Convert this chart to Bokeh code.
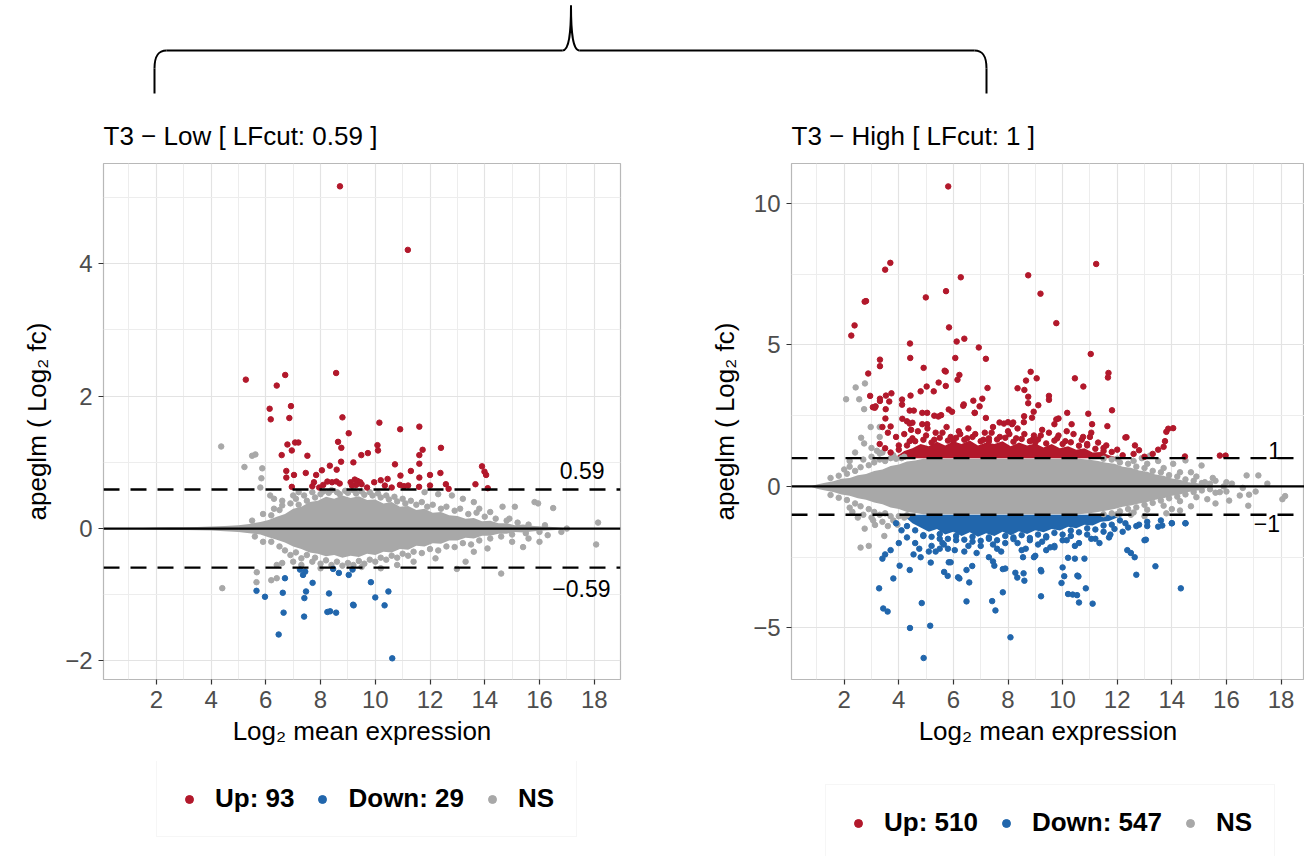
from bokeh.plotting import figure
from bokeh.layouts import column, row
from bokeh.models import FixedTicker, Span, Label, Legend, LegendItem
from bokeh.embed import file_html
from bokeh.resources import INLINE

FONT = "Liberation Sans"
RED = "#B2182B"
BLUE = "#2166AC"
GRAY = "#A8A8A8"

# ---------------- data: panel 1 (T3 - Low) ----------------
low_title = "T3 − Low [ LFcut: 0.59 ]"
low_cut = 0.59
low_legend = ["Up: 93", "Down: 29", "NS"]
low_up_x = [8.71, 11.19, 5.27, 6.71, 6.40, 8.57, 6.14, 6.92, 6.18, 6.86, 8.80, 10.15, 10.91, 11.61, 9.03,
            8.64, 8.76, 6.79, 7.07, 7.19, 6.95, 6.58, 7.52, 10.08, 10.10, 9.49, 9.73, 10.72, 11.61, 11.73,
            12.40, 11.61, 9.20, 8.75, 8.34, 8.59, 8.05, 7.84, 7.46, 7.03, 6.75, 6.75, 11.30, 10.92, 11.61,
            12.0, 12.38, 13.90, 13.99, 14.05, 14.11, 13.66, 12.68, 12.58, 8.25, 8.42, 8.58, 8.70, 7.76,
            7.70, 9.10, 9.25, 9.35, 9.45, 9.30, 9.15, 9.50, 9.96, 10.20, 10.35, 10.45, 10.90, 11.05, 11.20,
            11.60, 12.0, 7.95, 8.10, 9.70, 10.60, 6.95]
low_up_y = [5.17, 4.21, 2.25, 2.32, 2.16, 2.35, 1.81, 1.85, 1.65, 1.67, 1.68, 1.60, 1.50, 1.54, 1.44,
            1.31, 1.22, 1.27, 1.30, 1.30, 1.18, 1.11, 1.10, 1.26, 1.18, 1.11, 1.14, 0.97, 1.11, 1.19,
            1.22, 0.98, 1.00, 1.01, 0.95, 0.89, 0.88, 0.81, 0.84, 0.81, 0.87, 0.77, 0.87, 0.80, 0.77,
            0.81, 0.84, 0.94, 0.86, 0.81, 0.61, 0.67, 0.60, 0.67, 0.71, 0.70, 0.71, 0.68, 0.70,
            0.64, 0.70, 0.74, 0.72, 0.70, 0.66, 0.65, 0.67, 0.70, 0.73, 0.65, 0.75, 0.66, 0.64, 0.65,
            0.63, 0.65, 0.62, 0.66, 0.62, 0.62, 0.63]
low_down_x = [7.25, 7.36, 7.44, 6.70, 7.71, 8.46, 8.67, 9.03, 9.17, 9.84, 10.48, 10.0, 10.34, 9.19, 9.21,
              8.31, 8.25, 8.35, 8.57, 7.47, 7.41, 6.62, 5.97, 5.66, 6.65, 7.40, 6.47, 10.62]
low_down_y = [-0.62, -0.70, -0.65, -0.75, -0.82, -0.61, -0.67, -0.70, -0.62, -0.81, -0.95, -1.04, -1.16,
              -1.15, -1.16, -0.98, -1.26, -1.25, -1.27, -0.95, -1.05, -0.97, -1.03, -0.94, -1.27, -1.33,
              -1.60, -1.96]
low_ns_x = [4.37, 5.50, 5.62, 5.22, 5.87, 5.84, 5.80, 6.16, 6.30, 15.82, 15.95, 16.50, 18.14, 18.07, 15.40,
            15.10, 14.65, 13.30, 12.98, 14.60, 5.67, 5.66, 4.41, 6.20, 6.40, 6.40, 6.60, 16.80, 16.30, 17.0,
            15.60, 16.0, 14.90, 14.20, 13.60, 13.80, 13.20, 12.80, 12.30, 11.80, 7.20, 7.0, 6.60, 7.0, 7.30,
            10.80, 11.40, 12.20, 13.60, 14.10, 15.0, 8.0, 9.50, 10.20]
low_ns_y = [1.24, 1.10, 1.12, 0.93, 0.91, 0.76, 0.62, 0.50, 0.45, 0.40, 0.38, 0.31, 0.09, -0.24, -0.28,
            0.33, 0.33, -0.50, -0.61, -0.68, -0.66, -0.81, -0.90, -0.78, -0.75, -0.55, -0.52, -0.05, -0.10, 0.0,
            -0.15, -0.20, 0.15, 0.25, 0.40, 0.30, 0.45, 0.50, 0.52, 0.55, 0.55, 0.50, 0.42, -0.50, -0.55,
            -0.55, -0.50, -0.45, -0.35, -0.30, -0.20, -0.60, -0.58, -0.60]
# NS points at the edge of the dense cloud (x, y)
low_ns_edge = [(6.2, 0.2), (6.5, 0.28), (6.6, 0.35), (6.9, 0.38), (7.1, 0.45), (7.2, 0.36), (7.4, 0.5),
               (7.5, 0.42), (7.7, 0.55), (7.8, 0.47), (8.0, 0.52), (8.1, 0.56), (8.3, 0.54), (8.4, 0.58),
               (8.6, 0.55), (8.7, 0.52), (8.9, 0.57), (9.0, 0.54), (9.2, 0.58), (9.3, 0.53), (9.5, 0.56),
               (9.6, 0.51), (9.8, 0.55), (9.9, 0.5), (10.1, 0.53), (10.2, 0.47), (10.4, 0.5), (10.5, 0.44),
               (10.7, 0.48), (10.8, 0.41), (11.0, 0.45), (11.1, 0.38), (11.3, 0.42), (11.5, 0.36),
               (11.7, 0.4), (11.9, 0.33), (12.1, 0.36), (12.4, 0.3), (12.6, 0.33), (12.9, 0.27), (13.1, 0.3),
               (13.4, 0.22), (13.7, 0.24), (14.0, 0.18), (14.4, 0.15), (14.8, 0.12), (15.2, 0.09),
               (15.6, 0.06), (16.2, 0.05), (5.5, 0.12), (5.9, 0.22), (6.3, 0.3),
               (6.2, -0.2), (6.5, -0.27), (6.7, -0.33), (6.9, -0.4), (7.1, -0.36), (7.3, -0.45), (7.5, -0.4),
               (7.7, -0.5), (7.8, -0.44), (8.0, -0.53), (8.2, -0.48), (8.4, -0.55), (8.6, -0.5), (8.8, -0.56),
               (9.0, -0.52), (9.2, -0.55), (9.4, -0.49), (9.6, -0.53), (9.8, -0.47), (10.0, -0.5),
               (10.2, -0.44), (10.4, -0.47), (10.6, -0.41), (10.8, -0.44), (11.0, -0.38), (11.2, -0.41),
               (11.4, -0.35), (11.7, -0.37), (12.0, -0.31), (12.3, -0.33), (12.6, -0.27), (12.9, -0.28),
               (13.2, -0.22), (13.5, -0.24), (13.8, -0.18), (14.2, -0.15), (14.6, -0.12), (15.0, -0.09),
               (15.5, -0.07), (16.0, -0.05), (5.6, -0.12), (5.9, -0.2)]
# dense NS cloud (envelope)
low_core_x = [0.9, 1.5, 2, 2.5, 3, 3.5, 4, 4.5, 5, 5.4, 5.8, 6.1, 6.4, 6.7, 7.0, 7.3, 7.6, 7.9, 8.2, 8.5,
              8.8, 9.1, 9.4, 9.7, 10.0, 10.3, 10.6, 10.9, 11.2, 11.5, 11.8, 12.1, 12.4, 12.7, 13.0, 13.3,
              13.6, 13.9, 14.2, 14.5, 14.8, 15.1, 15.4, 15.8, 16.2, 16.6, 17.0]
low_core_hi = [0, 0.01, 0.015, 0.02, 0.02, 0.025, 0.03, 0.04, 0.05, 0.07, 0.1, 0.13, 0.18, 0.22, 0.3, 0.33,
               0.4, 0.42, 0.48, 0.45, 0.5, 0.46, 0.49, 0.43, 0.44, 0.38, 0.40, 0.33, 0.34, 0.28, 0.30, 0.24,
               0.25, 0.2, 0.19, 0.15, 0.16, 0.11, 0.12, 0.08, 0.08, 0.05, 0.06, 0.04, 0.03, 0.02, 0]
low_core_lo = [0, -0.01, -0.015, -0.02, -0.02, -0.025, -0.03, -0.04, -0.05, -0.07, -0.09, -0.13, -0.17,
               -0.21, -0.27, -0.31, -0.36, -0.38, -0.42, -0.40, -0.44, -0.41, -0.43, -0.38, -0.40, -0.35,
               -0.36, -0.31, -0.32, -0.26, -0.27, -0.22, -0.23, -0.18, -0.18, -0.14, -0.15, -0.11, -0.11,
               -0.08, -0.08, -0.05, -0.06, -0.04, -0.03, -0.02, 0]

# ---------------- data: panel 2 (T3 - High) ----------------
high_title = "T3 − High [ LFcut: 1 ]"
high_cut = 1.0
high_legend = ["Up: 510", "Down: 547", "NS"]
high_up_x = [5.81, 3.50, 3.69, 11.23, 8.74, 6.27, 9.19, 5.73, 4.99, 2.75, 2.80, 9.77, 2.38, 2.26, 5.84, 6.40,
             6.12, 4.41, 6.93, 4.42, 6.07, 7.19, 11.03, 3.31, 3.31, 2.88, 4.91, 5.68, 5.72, 6.22, 6.15, 8.83,
             8.66, 9.05, 11.68, 11.66, 10.45, 10.76, 5.46, 5.02, 5.28, 4.80, 5.72, 7.25, 8.35, 8.60, 8.74, 8.74,
             9.11, 9.50, 9.50, 2.95, 3.31, 3.31, 3.53, 3.73, 3.65, 4.12, 4.12, 4.43, 3.05, 3.12, 3.15, 3.52,
             4.40, 4.55, 4.86, 5.04, 5.30, 5.45, 5.55, 5.83, 5.95, 6.38, 6.36, 6.73, 6.78, 7.06, 6.96, 6.78,
             7.19, 7.69, 7.85, 8.0, 8.19, 8.15, 8.59, 8.58, 8.88, 8.94, 9.77, 9.85, 9.70, 10.17, 10.33, 10.94,
             11.08, 11.64, 11.81, 14.05, 3.40, 3.70, 4.13, 4.86, 5.04, 4.30, 4.40, 4.50, 3.51,
             3.6, 3.9, 4.2, 4.5, 4.7, 5.0, 5.3, 5.6, 5.9, 6.2, 6.5, 6.8, 7.1, 7.4, 7.7, 8.0, 8.3, 8.6, 8.9,
             9.2, 9.5, 9.8, 10.1, 10.4, 10.7, 11.0, 11.3, 11.6, 12.0, 12.34, 12.65, 12.8, 13.5, 13.7, 14.48,
             15.76, 15.97, 13.87, 13.80, 13.75, 12.30, 3.3, 3.5, 3.7, 4.0, 4.4, 6.0, 7.3, 9.0, 10.9, 11.5,
             12.2, 12.6, 13.0, 13.3]
high_up_y = [10.60, 7.66, 7.90, 7.86, 7.46, 7.39, 6.81, 6.90, 6.68, 6.53, 6.55, 5.77, 5.69, 5.33, 5.62, 5.22,
             5.12, 5.05, 4.91, 4.54, 4.54, 4.51, 4.68, 4.48, 4.25, 3.99, 4.19, 4.09, 4.06, 3.94, 3.77, 4.05,
             3.74, 3.82, 4.01, 3.85, 3.82, 3.53, 3.67, 3.53, 3.36, 3.36, 3.55, 3.48, 3.47, 3.41, 3.17, 2.94,
             2.87, 3.20, 3.06, 3.20, 3.10, 3.02, 3.21, 3.29, 3.00, 3.07, 2.89, 3.21, 2.80, 2.78, 2.83, 2.73,
             2.68, 2.68, 2.60, 2.60, 2.50, 2.47, 2.52, 2.72, 2.64, 2.90, 2.85, 3.03, 2.60, 3.10, 2.83, 2.60,
             2.42, 2.26, 2.22, 2.27, 2.26, 2.20, 2.48, 2.27, 2.43, 2.64, 2.37, 2.40, 2.20, 2.60, 2.20, 2.57,
             2.20, 2.13, 2.69, 2.06, 2.10, 2.12, 2.39, 2.20, 2.20, 2.30, 2.22, 2.25, 2.40,
             1.9, 1.75, 1.85, 1.7, 1.95, 1.8, 1.65, 1.9, 1.75, 1.95, 1.7, 1.85, 1.65, 1.9, 1.75, 1.95, 1.7, 1.85,
             1.65, 1.8, 1.9, 1.7, 1.6, 1.85, 1.65, 1.75, 1.55, 1.45, 1.3, 1.74, 1.45, 1.28, 1.3, 1.4, 1.06,
             1.09, 1.09, 2.04, 1.93, 1.6, 1.73, 1.5, 1.35, 1.2, 1.45, 1.6, 1.6, 1.6, 1.55, 1.45, 1.25,
             1.1, 1.15, 1.05, 1.15]
high_up_edge = [(4.0, 1.3), (4.3, 1.45), (4.6, 1.6), (4.9, 1.65), (5.2, 1.55), (5.5, 1.72), (5.8, 1.62),
                (6.1, 1.72), (6.4, 1.65), (6.7, 1.75), (7.0, 1.6), (7.3, 1.7), (7.6, 1.66), (7.9, 1.72),
                (8.2, 1.58), (8.5, 1.68), (8.8, 1.6), (9.1, 1.66), (9.4, 1.52), (9.7, 1.62), (10.0, 1.5),
                (10.3, 1.56), (10.6, 1.44), (10.9, 1.5), (11.2, 1.33), (11.5, 1.36), (11.8, 1.22),
                (4.45, 2.0), (5.05, 2.05), (5.75, 2.1), (6.55, 2.05), (7.45, 2.1), (8.35, 2.05), (9.25, 2.0),
                (10.15, 1.95), (11.05, 1.9), (5.35, 1.9), (6.25, 1.85), (7.15, 1.9), (8.05, 1.85),
                (8.95, 1.8), (9.85, 1.8), (10.75, 1.75)]
high_down_x = [3.28, 3.43, 3.59, 3.80, 4.03, 4.41, 5.15, 4.91, 4.84, 4.40, 5.17, 5.66, 5.79, 5.83, 5.90, 6.17,
               6.22, 6.48, 6.58, 6.48, 6.69, 7.42, 7.54, 7.81, 8.09, 7.81, 7.90, 8.27, 8.34, 8.57, 8.60, 9.21,
               9.20, 9.22, 9.96, 10.0, 10.06, 10.20, 10.37, 10.53, 10.54, 10.58, 10.60, 10.85, 11.10, 10.80,
               10.45, 10.20, 12.70, 12.50, 12.37, 12.64, 13.40, 14.33, 13.0, 13.05, 14.0, 14.5, 3.5, 3.4, 4.0,
               3.7, 4.54, 4.8, 5.1, 5.5, 5.6, 7.3, 7.45, 7.5, 8.55, 8.95, 9.0, 9.4, 9.7, 11.7, 11.75, 12.2,
               12.4, 12.8, 13.1, 13.5, 13.65,
               4.3, 4.6, 4.9, 5.2, 5.5, 5.8, 6.1, 6.4, 6.7, 7.0, 7.3, 7.6, 7.9, 8.2, 8.5, 8.8, 9.1, 9.4, 9.7,
               10.0, 10.3, 10.6, 10.9, 11.2, 11.5, 11.9, 12.3, 12.7, 13.1, 13.6, 14.0, 14.5, 3.9, 4.1]
high_down_y = [-3.60, -4.31, -4.42, -3.25, -2.80, -5.00, -4.92, -6.06, -4.12, -2.95, -2.69, -3.02, -3.16, -2.68,
               -2.68, -3.21, -3.25, -4.06, -3.39, -2.95, -2.81, -4.05, -4.38, -3.74, -5.33, -2.92, -2.90, -3.05,
               -3.22, -3.07, -3.33, -3.88, -2.95, -3.0, -3.41, -2.86, -3.17, -3.80, -3.82, -3.84, -3.15, -3.18,
               -4.10, -3.60, -4.14, -2.55, -2.55, -2.52, -3.12, -2.35, -2.25, -2.50, -2.82, -3.60, -1.90, -1.88,
               -1.30, -1.30, -2.40, -2.55, -2.0, -2.25, -2.40, -2.50, -2.30, -2.20, -2.0, -2.50, -2.65, -2.80,
               -2.50, -2.50, -2.45, -2.25, -2.10, -1.80, -1.70, -1.60, -1.45, -1.35, -1.40, -1.42, -1.38,
               -1.8, -2.0, -1.75, -2.1, -1.85, -2.2, -1.9, -2.3, -1.95, -2.1, -1.85, -2.2, -2.0, -1.8, -2.25,
               -1.9, -2.05, -1.8, -2.15, -1.9, -1.75, -2.0, -1.7, -1.85, -1.6, -1.5, -1.3, -1.4, -1.25, -1.2,
               -1.3, -1.3, -1.3, -1.55]
high_down_edge = [(4.3, -1.4), (4.6, -1.55), (4.9, -1.72), (5.2, -1.78), (5.5, -1.68), (5.8, -1.85),
                  (6.1, -1.75), (6.4, -1.88), (6.7, -1.78), (7.0, -1.92), (7.3, -1.8), (7.6, -1.9),
                  (7.9, -1.75), (8.2, -1.86), (8.5, -1.72), (8.8, -1.82), (9.1, -1.7), (9.4, -1.76),
                  (9.7, -1.64), (10.0, -1.7), (10.3, -1.56), (10.6, -1.62), (10.9, -1.48), (11.2, -1.52),
                  (11.5, -1.38), (11.8, -1.35), (12.1, -1.2), (4.75, -2.2), (5.35, -2.3), (6.05, -2.25),
                  (6.85, -2.35), (7.75, -2.3), (8.65, -2.2), (9.55, -2.15), (10.45, -2.1), (11.35, -2.0),
                  (5.65, -2.05), (6.55, -2.1), (7.45, -2.05), (8.35, -2.0), (9.25, -1.95), (10.15, -1.9),
                  (11.05, -1.85)]
high_ns_x = [2.07, 2.42, 2.76, 2.55, 2.73, 2.97, 3.30, 2.62, 2.73, 3.30, 3.30, 3.20, 3.0, 2.4, 2.2, 2.0, 3.8,
             4.2, 2.75, 2.60, 2.90, 3.13, 3.47, 3.06, 3.80, 3.95, 2.3, 2.5, 3.6, 4.2, 15.09, 14.70, 14.05,
             14.50, 15.21, 15.76, 16.49, 16.83, 17.07, 16.74, 17.17, 18.15, 18.05, 16.10, 16.80, 14.70, 14.30,
             14.0, 13.80, 13.20, 13.50, 15.50, 15.90, 16.20, 15.30, 15.60, 17.50, 16.60, 12.90, 12.50, 13.0]
high_ns_y = [3.08, 3.50, 3.64, 3.08, 2.73, 2.10, 2.10, 1.72, 1.52, 1.75, 1.17, 1.26, 1.36, 1.20, 0.90, 0.60,
             1.10, 1.05, -1.49, -2.16, -2.10, -1.36, -1.75, -1.20, -1.20, -1.35, -0.90, -1.10, -1.40, -1.10,
             0.74, 0.50, 0.80, 0.92, 0.15, -0.20, -0.32, -0.29, -0.18, 0.39, 0.39, -0.34, -0.45, -0.50, -0.68,
             -0.70, -0.85, -0.80, -0.95, 1.09, 0.90, 0.30, 0.0, 0.10, -0.45, -0.60, 0.10, -0.05, 1.0, -1.0,
             -1.05]
high_ns_edge = [(1.5, 0.3), (1.8, 0.38), (2.1, 0.45), (2.4, 0.55), (2.6, 0.68), (2.9, 0.75), (3.1, 0.85),
                (3.3, 0.95), (3.5, 0.9), (3.7, 1.0), (2.2, 0.7), (2.7, 0.95), (3.0, 1.05), (3.4, 1.2),
                (3.9, 0.98), (4.1, 1.0), (1.5, -0.3), (1.8, -0.4), (2.1, -0.48), (2.4, -0.6), (2.6, -0.7),
                (2.9, -0.8), (3.1, -0.9), (3.3, -1.0), (3.5, -0.95), (3.7, -1.05), (2.2, -0.75), (2.7, -1.0),
                (3.0, -1.1), (3.4, -1.25), (4.0, -1.05), (4.3, -1.02), (11.5, 0.98), (11.8, 0.95),
                (12.1, 0.85), (12.4, 0.8), (12.7, 0.7), (13.0, 0.65), (13.3, 0.55), (13.6, 0.5), (13.9, 0.4),
                (14.2, 0.35), (14.5, 0.25), (14.8, 0.2), (15.1, 0.12), (15.4, 0.1), (12.0, 0.98), (12.6, 0.9),
                (13.1, 0.8), (13.7, 0.65), (14.3, 0.5), (14.9, 0.35), (15.6, 0.2), (16.0, 0.15),
                (11.5, -0.98), (11.8, -0.95), (12.1, -0.88), (12.4, -0.8), (12.7, -0.74), (13.0, -0.65),
                (13.3, -0.58), (13.6, -0.5), (13.9, -0.42), (14.2, -0.36), (14.5, -0.28), (14.8, -0.2),
                (15.1, -0.14), (15.4, -0.1), (12.0, -0.98), (12.6, -0.92), (13.1, -0.82), (13.7, -0.68),
                (14.3, -0.52), (14.9, -0.38), (15.6, -0.22), (16.0, -0.18)]
high_core_x = [0.75, 1.0, 1.3, 1.6, 1.9, 2.2, 2.5, 2.8, 3.1, 3.4, 3.7, 4.0, 4.3, 4.6, 4.9, 5.2, 6, 7, 8, 9,
               10, 10.6, 11.0, 11.3, 11.6, 11.9, 12.2, 12.5, 12.8, 13.1, 13.4, 13.7, 14.0, 14.3, 14.6, 14.9,
               15.2, 15.5]
high_core_hi = [0, 0.07, 0.13, 0.18, 0.27, 0.3, 0.4, 0.44, 0.55, 0.6, 0.72, 0.78, 0.88, 0.92, 0.98, 0.98,
                0.98, 0.98, 0.98, 0.98, 0.98, 0.98, 0.94, 0.9, 0.84, 0.8, 0.7, 0.66, 0.56, 0.52, 0.42, 0.38,
                0.28, 0.24, 0.15, 0.12, 0.05, 0]
high_core_lo = [0, -0.08, -0.14, -0.2, -0.28, -0.33, -0.42, -0.47, -0.57, -0.63, -0.74, -0.8, -0.9, -0.94,
                -0.98, -0.98, -0.98, -0.98, -0.98, -0.98, -0.98, -0.98, -0.95, -0.9, -0.85, -0.8, -0.72,
                -0.67, -0.6, -0.55, -0.47, -0.42, -0.33, -0.28, -0.2, -0.15, -0.07, 0]
# dense significant bands just beyond the cut-offs
high_upband_x = [3.9, 4.2, 4.5, 4.8, 5.1, 5.4, 5.7, 6.0, 6.3, 6.6, 6.9, 7.2, 7.5, 7.8, 8.1, 8.4, 8.7, 9.0,
                 9.3, 9.6, 9.9, 10.2, 10.5, 10.8, 11.1, 11.4, 11.7, 12.0]
high_upband_hi = [1.05, 1.25, 1.35, 1.5, 1.42, 1.58, 1.45, 1.6, 1.5, 1.62, 1.45, 1.55, 1.5, 1.6, 1.42, 1.55,
                  1.45, 1.52, 1.38, 1.5, 1.35, 1.42, 1.3, 1.35, 1.2, 1.22, 1.1, 1.02]
high_dnband_x = [4.2, 4.5, 4.8, 5.1, 5.4, 5.7, 6.0, 6.3, 6.6, 6.9, 7.2, 7.5, 7.8, 8.1, 8.4, 8.7, 9.0, 9.3,
                 9.6, 9.9, 10.2, 10.5, 10.8, 11.1, 11.4, 11.7, 12.0, 12.3]
high_dnband_lo = [-1.05, -1.3, -1.45, -1.6, -1.5, -1.7, -1.6, -1.75, -1.62, -1.78, -1.65, -1.75, -1.6, -1.72,
                  -1.58, -1.68, -1.55, -1.62, -1.5, -1.56, -1.42, -1.48, -1.35, -1.38, -1.25, -1.22, -1.1,
                  -1.02]

x_ticks = [2, 4, 6, 8, 10, 12, 14, 16, 18]
x_minor = [1, 3, 5, 7, 9, 11, 13, 15, 17, 19]
low_yticks = [-2, 0, 2, 4]
low_yminor = [-1, 1, 3, 5]
high_yticks = [-5, 0, 5, 10]
high_yminor = [-2.5, 2.5, 7.5]


def minus(v):
    return ("%g" % v).replace("-", "−")


def merge(xs, ys, extra=()):
    n = min(len(xs), len(ys))
    ex = [e[0] for e in extra]
    ey = [e[1] for e in extra]
    return list(xs[:n]) + ex, list(ys[:n]) + ey


def style_axes(p, yticks, yminor):
    p.xaxis.ticker = FixedTicker(ticks=x_ticks, minor_ticks=x_minor)
    p.yaxis.ticker = FixedTicker(ticks=yticks, minor_ticks=yminor)
    p.yaxis.major_label_overrides = {t: minus(t) for t in yticks}
    for ax in (p.xaxis, p.yaxis):
        ax.axis_line_color = None
        ax.major_tick_line_color = "#333333"
        ax.major_tick_line_width = 1.2
        ax.major_tick_out = 5
        ax.major_tick_in = 0
        ax.minor_tick_line_color = None
        ax.major_label_text_font = FONT
        ax.major_label_text_font_size = "24px"
        ax.major_label_text_color = "#4D4D4D"
        ax.major_label_standoff = 6
        ax.axis_label_text_font = FONT
        ax.axis_label_text_font_size = "26px"
        ax.axis_label_text_font_style = "normal"
        ax.axis_label_text_color = "black"
    p.xaxis.axis_label = "Log₂ mean expression"
    p.yaxis.axis_label = "apeglm ( Log₂ fc)"
    p.xaxis.axis_label_standoff = 5
    p.yaxis.axis_label_standoff = 10
    for g in (p.xgrid, p.ygrid):
        g.grid_line_color = "#E3E3E3"
        g.grid_line_width = 1.2
        g.minor_grid_line_color = "#EDEDED"
        g.minor_grid_line_width = 1
    p.xgrid.ticker = p.xaxis.ticker
    p.ygrid.ticker = p.yaxis.ticker
    p.outline_line_color = "#B8B8B8"
    p.outline_line_width = 1.2
    p.title.text_font = FONT
    p.title.text_font_size = "26px"
    p.title.text_font_style = "normal"
    p.title.text_color = "black"
    p.title.align = "left"
    p.title.standoff = 26


def add_lines(p, cut):
    p.add_layout(Span(location=0, dimension="width", line_color="black", line_width=2.2))
    for c in (cut, -cut):
        p.add_layout(Span(location=c, dimension="width", line_color="black", line_width=2.4,
                          line_dash="16 11"))


def legend_figure(labels, series, loc):
    # legend strip under a panel; its key renderers hold the panel's own points, which all lie
    # outside this strip's (0..1) ranges, so only the legend keys show
    lf = figure(width=652, height=95, min_border=0, x_range=(0, 1), y_range=(0, 1),
                output_backend="svg", toolbar_location=None)
    lf.axis.visible = False
    lf.grid.visible = False
    lf.outline_line_color = None
    rs = [lf.scatter(sx, sy, size=4.5, color=c) for (sx, sy), c in zip(series, (RED, BLUE, GRAY))]
    items = [LegendItem(label=l, renderers=[r]) for l, r in zip(labels, rs)]
    lg = Legend(items=items, orientation="horizontal", location=loc,
                label_text_font=FONT, label_text_font_size="26px", label_text_font_style="bold",
                label_text_color="black", glyph_width=20, glyph_height=20, label_standoff=16,
                spacing=18, padding=22, border_line_color="#EDEDED", border_line_width=1.2,
                background_fill_color="white", background_fill_alpha=1.0)
    lf.add_layout(lg)
    return lf


PT = 5.5
TOP_H = 97

# ---------- left panel ----------
p1 = figure(frame_width=517, frame_height=516, min_border_left=103, min_border_right=32,
            min_border_top=66, min_border_bottom=82,
            x_range=(0.07, 18.96), y_range=(-2.28, 5.515), title=low_title,
            output_backend="svg", toolbar_location=None)
style_axes(p1, low_yticks, low_yminor)
p1.varea(x=low_core_x, y1=low_core_lo, y2=low_core_hi, fill_color=GRAY)
nx1, ny1 = merge(low_ns_x, low_ns_y, low_ns_edge)
p1.scatter(nx1, ny1, size=PT, color=GRAY)
ux1, uy1 = merge(low_up_x, low_up_y)
p1.scatter(ux1, uy1, size=PT, color=RED)
dx1, dy1 = merge(low_down_x, low_down_y)
p1.scatter(dx1, dy1, size=PT, color=BLUE)
add_lines(p1, low_cut)
p1.add_layout(Label(x=17.56, y=0.87, text="%g" % low_cut, text_align="center", text_baseline="middle",
                    text_font=FONT, text_font_size="23px", text_color="black"))
p1.add_layout(Label(x=17.53, y=-0.91, text=minus(-low_cut), text_align="center", text_baseline="middle",
                    text_font=FONT, text_font_size="23px", text_color="black"))
leg1 = legend_figure(low_legend, [(ux1, uy1), (dx1, dy1), (nx1, ny1)], (53, 19))

# ---------- right panel ----------
p2 = figure(frame_width=513, frame_height=516, min_border_left=139, min_border_right=0,
            min_border_top=66, min_border_bottom=82,
            x_range=(0.07, 18.86), y_range=(-6.82, 11.41), title=high_title,
            output_backend="svg", toolbar_location=None)
style_axes(p2, high_yticks, high_yminor)
p2.varea(x=high_core_x, y1=high_core_lo, y2=high_core_hi, fill_color=GRAY)
p2.varea(x=high_upband_x, y1=[high_cut] * len(high_upband_x), y2=high_upband_hi, fill_color=RED)
p2.varea(x=high_dnband_x, y1=high_dnband_lo, y2=[-high_cut] * len(high_dnband_x), fill_color=BLUE)
nx2, ny2 = merge(high_ns_x, high_ns_y, high_ns_edge)
p2.scatter(nx2, ny2, size=PT, color=GRAY)
ux2, uy2 = merge(high_up_x, high_up_y, high_up_edge)
p2.scatter(ux2, uy2, size=PT, color=RED)
dx2, dy2 = merge(high_down_x, high_down_y, high_down_edge)
p2.scatter(dx2, dy2, size=PT, color=BLUE)
add_lines(p2, high_cut)
p2.add_layout(Label(x=17.77, y=1.27, text="%g" % high_cut, text_align="center", text_baseline="middle",
                    text_font=FONT, text_font_size="23px", text_color="black"))
p2.add_layout(Label(x=17.48, y=-1.3, text=minus(-high_cut), text_align="center", text_baseline="middle",
                    text_font=FONT, text_font_size="23px", text_color="black"))
leg2 = legend_figure(high_legend, [(ux2, uy2), (dx2, dy2), (nx2, ny2)], (34, -5))

# ---------- brace above both panels (decoration, screen-pixel geometry) ----------
top = figure(width=1304, height=TOP_H, x_range=(0, 1304), y_range=(TOP_H, 0),
             min_border=0, output_backend="svg", toolbar_location=None)
top.axis.visible = False
top.grid.visible = False
top.outline_line_color = None
top.segment(x0=[154, 166, 579, 986], y0=[93, 50, 50, 68], x1=[154, 562, 974, 986], y1=[68, 50, 50, 93],
            line_color="black", line_width=2)
top.bezier(x0=[154, 562, 570.5, 974], y0=[68, 50, 5, 50],
           x1=[166, 570.5, 579, 986], y1=[50, 5, 50, 68],
           cx0=[154, 569, 570.5, 982], cy0=[55, 50, 30, 50],
           cx1=[158, 570.5, 572, 986], cy1=[50, 30, 50, 55],
           line_color="black", line_width=2)

layout = column(top, row(column(p1, leg1, spacing=0), column(p2, leg2, spacing=0), spacing=0), spacing=0)
open("out.html", "w").write(file_html(layout, INLINE))
